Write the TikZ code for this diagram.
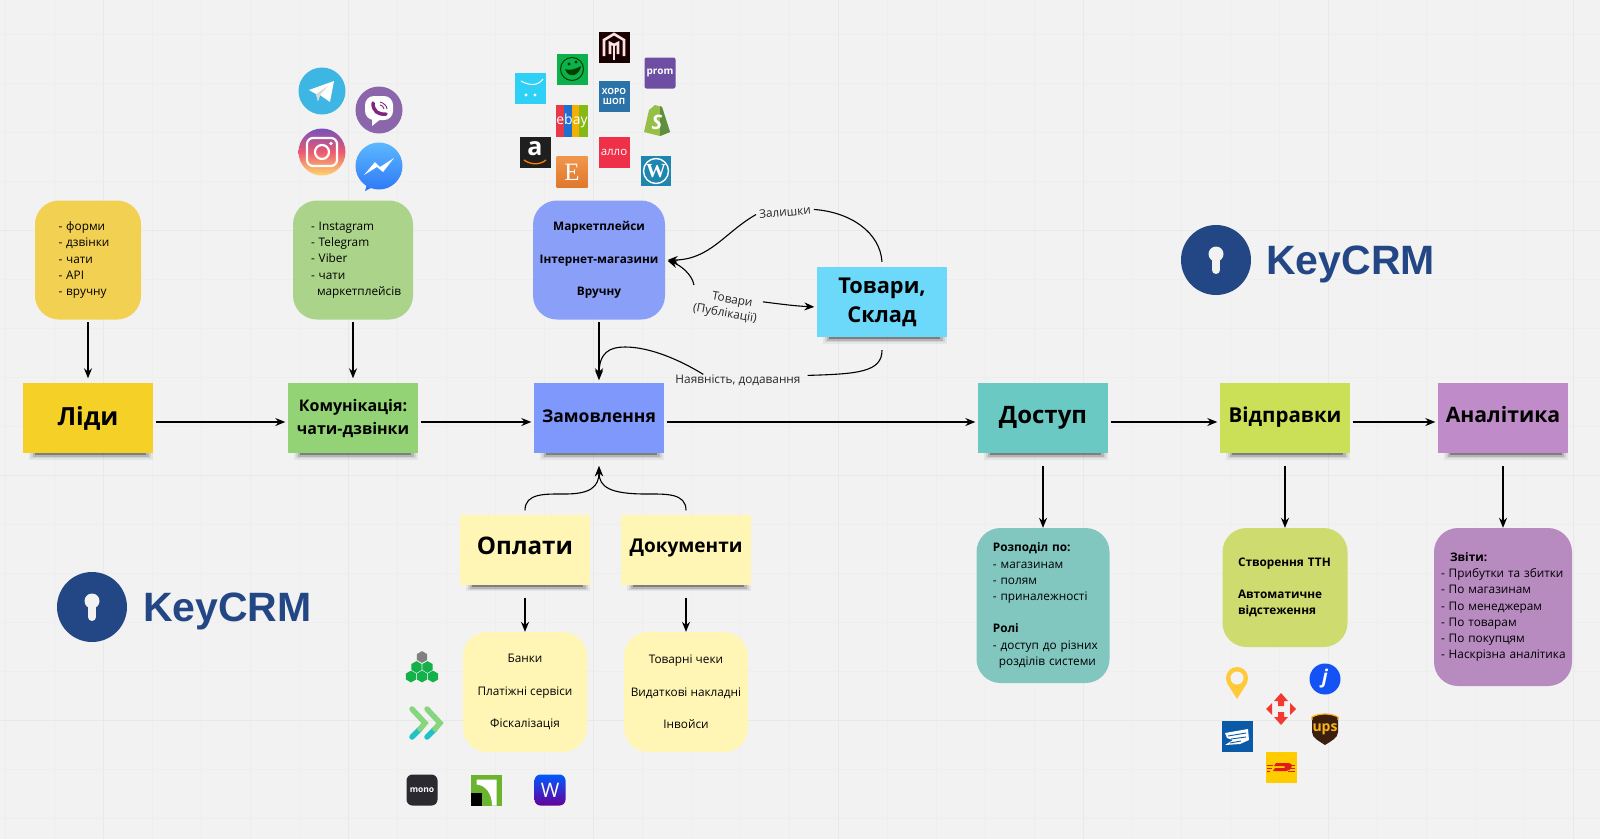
\documentclass[tikz,border=0pt]{standalone}
\usepackage{fontspec}
\setmainfont{Open Sans}
\newfontfamily\logofont{Liberation Sans}
\newfontfamily\etsyfont{Liberation Serif}
\usetikzlibrary{positioning, calc, arrows.meta, shapes.geometric, shadows}
\definecolor{board}{HTML}{F2F2F2}
\definecolor{gridminor}{HTML}{EEEEEE}
\definecolor{gridmajor}{HTML}{E9E9E9}
\definecolor{keyblue}{HTML}{234785}
\definecolor{notelead}{HTML}{F5D128}
\definecolor{notechat}{HTML}{93D275}
\definecolor{noteorder}{HTML}{7F98FC}
\definecolor{notestock}{HTML}{6CD8FA}
\definecolor{noteaccess}{HTML}{6BC9C3}
\definecolor{noteship}{HTML}{CBE057}
\definecolor{notereport}{HTML}{C08BC9}
\definecolor{notepay}{HTML}{FFF6B6}
\definecolor{cardlead}{HTML}{F2D052}
\definecolor{cardchat}{HTML}{ABD48A}
\definecolor{cardmarket}{HTML}{8A9FF8}
\definecolor{cardaccess}{HTML}{81C6BF}
\definecolor{cardship}{HTML}{CEDB6E}
\definecolor{cardreport}{HTML}{B78AC0}
\definecolor{shopgreen}{HTML}{95BF47}
\definecolor{shopdark}{HTML}{5E8E3E}
\definecolor{hexgreen}{HTML}{14B04A}
\definecolor{novared}{HTML}{F33A32}
\definecolor{dhlred}{HTML}{DE1B1B}
\definecolor{msgblue}{HTML}{2F7BF6}
\definecolor{msgsky}{HTML}{5CB8FF}
\definecolor{ebayred}{HTML}{E8394B}
\definecolor{ebayblue}{HTML}{1F6FD0}
\definecolor{ebayyellow}{HTML}{F2B100}
\definecolor{ebaygreen}{HTML}{86B817}
\definecolor{chevteal}{HTML}{21C1C4}
\definecolor{chevgreen}{HTML}{86D67F}
\definecolor{pinyellow}{HTML}{FFC938}
\definecolor{uspsblue}{HTML}{0B5AA8}
\definecolor{upsbrown}{HTML}{3B1E0E}
\definecolor{upsgold}{HTML}{FAB41A}
\tikzset{
  flow/.style={-{Stealth[length=10pt,width=8pt]}, line width=1.1pt, black, shorten >=2.5pt, shorten <=2.5pt},
  wire/.style={line width=1.1pt, black},
  note/.style={draw=none, minimum width=130pt, minimum height=70pt, inner sep=0pt, align=center,
    general shadow={fill=black, opacity=.05, shadow scale=.95, shadow xshift=3pt, shadow yshift=-8.75pt},
    general shadow={fill=black, opacity=.08, shadow scale=.92, shadow xshift=3pt, shadow yshift=-8.8pt},
    general shadow={fill=black, opacity=.14, shadow scale=.89, shadow xshift=3pt, shadow yshift=-8.85pt},
    general shadow={fill=black, opacity=.30, shadow scale=.86, shadow xshift=3pt, shadow yshift=-8.4pt}},
  lift/.style={text height=#1pt, text depth=0pt},
  card/.style n args={3}{rounded corners=24pt, minimum width=#1pt, minimum height=#2pt, inner xsep=#3pt,
    inner ysep=0pt, text width=#1pt-2*#3pt, font=\fontsize{11.8}{16.2}\selectfont, align=left},
  cardmid/.style n args={2}{rounded corners=24pt, minimum width=#1pt, minimum height=#2pt, inner sep=0pt,
    font=\fontsize{11.8}{16.2}\selectfont, align=center},
  edgelabel/.style={font=\fontsize{11.8}{14.5}\selectfont, inner sep=3pt, align=center, text=black!85},
  logosq/.style={inner sep=0pt, minimum size=31pt, text=white, font=\bfseries\fontsize{9}{10}\selectfont, align=center},
  logoround/.style={circle, inner sep=0pt, minimum size=47pt},
  hexcell/.style={regular polygon, regular polygon sides=6, shape border rotate=30, inner sep=0pt, minimum size=11.8pt},
  keytext/.style={text=keyblue, inner sep=0pt, anchor=base west, font=\logofont\bfseries\fontsize{41}{41}\selectfont}
}
\begin{document}
\begin{tikzpicture}[x=1pt, y=-1pt]
  \useasboundingbox (0,0) rectangle (1600,839);
  \fill[board] (0,0) rectangle (1600,839);
  \foreach \x in {5,54,...,1600} \draw[gridminor, line width=1pt] (\x,0) -- (\x,839);
  \foreach \y in {34,83,...,839} \draw[gridminor, line width=1pt] (0,\y) -- (1600,\y);
  \foreach \x in {103,348,...,1600} \draw[gridmajor, line width=1pt] (\x,0) -- (\x,839);
  \foreach \y in {230,475,720} \draw[gridmajor, line width=1pt] (0,\y) -- (1600,\y);

  % main row
  \node[note, lift=14, fill=notelead, font=\bfseries\fontsize{25}{29}\selectfont] (lead) at (88,418) {Ліди};
  \node[note, fill=notechat, font=\bfseries\fontsize{16}{23}\selectfont] (chat) at ($(lead)+(265,0)$) {Комунікація:\\чати-дзвінки};
  \node[note, lift=8, fill=noteorder, font=\bfseries\fontsize{17.5}{27}\selectfont] (order) at ($(chat)+(246,0)$) {Замовлення};
  \node[note, lift=11.2, fill=noteaccess, font=\bfseries\fontsize{24}{29}\selectfont] (access) at ($(order)+(444,0)$) {Доступ};
  \node[note, lift=8.6, fill=noteship, font=\bfseries\fontsize{20.5}{29}\selectfont] (ship) at ($(access)+(242,0)$) {Відправки};
  \node[note, lift=9.2, fill=notereport, font=\bfseries\fontsize{21.2}{29}\selectfont] (report) at ($(ship)+(218,0)$) {Аналітика};
  \foreach \a/\b in {lead/chat, chat/order, order/access, access/ship, ship/report}
    \draw[flow] ([yshift=-4pt]\a.east) -- ([yshift=-4pt]\b.west);

  % top cards
  \node[card={106}{119}{23.5}, fill=cardlead] (leadcard) at ($(lead)-(0,158)$) {
    - форми\\- дзвінки\\- чати\\- API\\- вручну}
    edge[flow, shorten >=4.5pt] (lead);
  \node[card={120}{119}{18}, fill=cardchat] (chatcard) at ($(chat)-(0,158)$) {
    - Instagram\\- Telegram\\- Viber\\- чати\\\hspace*{6pt}маркетплейсів}
    edge[flow, shorten >=4.5pt] (chat);
  \node[cardmid={132}{119}, fill=cardmarket, font=\bfseries\fontsize{11.8}{16.2}\selectfont] (marketcard) at ($(order)-(0,158)$) {
    Маркетплейси\\[16.2pt]Інтернет-магазини\\[16.2pt]Вручну}
    edge[flow, shorten >=4.5pt] (order);

  % stock
  \node[note, fill=notestock, font=\bfseries\fontsize{21.8}{29}\selectfont] (stock) at (882,302) {Товари,\\Склад};
  \node[edgelabel, rotate=5] (restlabel) at (785,212) {Залишки};
  \node[edgelabel, rotate=-10] (goodslabel) at (726,307) {\hspace*{10pt}Товари\\(Публікації)};
  \node[edgelabel] (orderlabel) at (738,380) {Наявність, додавання};
  \draw[wire] ([yshift=5pt]stock.north) .. controls (880,232) and (850,212) .. (restlabel.east);
  \draw[flow, shorten <=0pt] (restlabel.west) .. controls (725,232) and (710,260) .. (marketcard.east);
  \draw[{Stealth[length=10pt,width=8pt]}-, wire, shorten <=2.5pt] (marketcard.east) .. controls (680,265) and (692,274) .. (goodslabel.north west);
  \draw[flow, shorten <=0pt] (goodslabel.18) .. controls (780,304) and (795,306) .. ([yshift=-5pt]stock.west);
  \draw[wire] ([yshift=-13pt]stock.south) .. controls (882,372) and (858,374) .. ($(orderlabel.north east)+(4,4)$);
  \draw[flow, shorten <=0pt] ($(orderlabel.north west)+(31,3)$) .. controls (680,360) and (650,347) .. (625,347)
    .. controls (610,347) and (599,352) .. (order.north);

  % bottom notes
  \node[note, lift=10, fill=notepay, font=\bfseries\fontsize{24.2}{29}\selectfont] (pay) at (525,549.5) {Оплати};
  \node[note, lift=6.6, fill=notepay, font=\bfseries\fontsize{19}{29}\selectfont] (docs) at (686,549.5) {Документи};
  \draw[flow, shorten >=13pt, shorten <=0pt] ([yshift=4pt]pay.north) .. controls (525,493) and (545,494) .. (565,494)
    .. controls (590,494) and (599,487) .. (order.south);
  \draw[flow, shorten >=13pt, shorten <=0pt] ([yshift=4pt]docs.north) .. controls (686,493) and (666,494) .. (646,494)
    .. controls (610,494) and (599,487) .. (order.south);
  \node[cardmid={124}{120}, fill=notepay] (paycard) at ($(pay)+(0,142.5)$) {
    Банки\\[16.2pt]Платіжні сервіси\\[16.2pt]Фіскалізація};
  \node[cardmid={124}{120}, fill=notepay] (docscard) at ($(docs)+(0,142.5)$) {
    Товарні чеки\\[16.2pt]Видаткові накладні\\[16.2pt]Інвойси};
  \draw[flow, shorten <=13pt, shorten >=0pt] (pay.south) -- (paycard.north);
  \draw[flow, shorten <=13pt, shorten >=0pt] (docs.south) -- (docscard.north);

  % bottom cards
  \node[card={133}{155}{16.4}, fill=cardaccess] (accesscard) at (1043,605.5) {
    \textbf{Розподіл по:}\\- магазинам\\- полям\\- приналежності\\[16.2pt]\textbf{Ролі}\\\mbox{- доступ до різних}\\\mbox{\hspace*{6pt}розділів системи}};
  \node[card={125}{119}{15.5}, fill=cardship, font=\bfseries\fontsize{11.8}{16.2}\selectfont] (shipcard) at (1285,587.5) {
    \mbox{Створення ТТН}\\[16.2pt]Автоматичне\\відстеження};
  \node[card={138}{158}{7}, fill=cardreport] (reportcard) at (1503,607) {
    \hspace*{9pt}\textbf{Звіти:}\\\mbox{- Прибутки та збитки}\\- По магазинам\\- По менеджерам\\- По товарам\\- По покупцям\\\mbox{- Наскрізна аналітика}};
  \draw[flow, shorten <=13pt, shorten >=0pt] (access.south) -- (accesscard.north);
  \draw[flow, shorten <=13pt, shorten >=0pt] (ship.south) -- (shipcard.north);
  \draw[flow, shorten <=13pt, shorten >=0pt] (report.south) -- (reportcard.north);

  % keycrm
  \node[circle, fill=keyblue, minimum size=70pt, inner sep=0pt] (keyleft) at (92,607) {};
  \fill[board] ($(keyleft)+(0,-6)$) circle[radius=7.5pt];
  \draw[board, line width=8pt, line cap=round] ($(keyleft)+(0,-4)$) -- ($(keyleft)+(0,10)$);
  \node[keytext] (keylefttext) at (143,621) {KeyCRM};
  \node[circle, fill=keyblue, minimum size=70pt, inner sep=0pt] (keyright) at (1216,260) {};
  \fill[board] ($(keyright)+(0,-6)$) circle[radius=7.5pt];
  \draw[board, line width=8pt, line cap=round] ($(keyright)+(0,-4)$) -- ($(keyright)+(0,10)$);
  \node[keytext] (keyrighttext) at (1266,274) {KeyCRM};

  % messengers
  \node[logoround, fill={rgb,255:red,62;green,182;blue,227}] (telegram) at (322,91) {};
  \begin{scope}[shift={(telegram)}]
    \fill[white] (-13,-1) -- (12,-10) -- (8,11) -- (-2,4) -- (-4,10) -- (-6,3) -- cycle;
    \fill[black!15] (-6,3) -- (6,-5) -- (-2,4) -- (-4,10) -- cycle;
  \end{scope}
  \node[logoround, fill={rgb,255:red,140;green,102;blue,170}] (viber) at (379,110) {};
  \begin{scope}[shift={(viber)}]
    \fill[white, rounded corners=9pt] (-14,-14) rectangle (14,10);
    \fill[white] (-7,6) -- (-7,16) -- (3,8) -- cycle;
    \draw[violet!70!gray, line width=3.5pt, line cap=round] (-6,-7) .. controls (-6,1) and (-1,5) .. (7,4);
    \draw[violet!70!gray, line width=.9pt] (1,-8) .. controls (5,-7) and (8,-4) .. (8,-1);
    \draw[violet!70!gray, line width=.9pt] (1,-5) .. controls (3,-5) and (5,-3) .. (5,-1);
  \end{scope}
  \node[logoround, top color={rgb,255:red,120;green,80;blue,190}, bottom color={rgb,255:red,255;green,214;blue,110}, middle color={rgb,255:red,236;green,90;blue,110}] (instagram) at (322,152) {};
  \begin{scope}[shift={(instagram)}]
    \draw[white, line width=2.2pt, rounded corners=6pt] (-15,-14) rectangle (15,14);
    \draw[white, line width=2.2pt] (0,0) circle[radius=7pt];
    \fill[white] (9,-8.5) circle[radius=1.8pt];
  \end{scope}
  \fill[msgblue] (367,184) -- (365,191) -- (373,187) -- cycle;
  \node[logoround, top color=msgsky, bottom color=msgblue] (messenger) at (379,166) {};
  \begin{scope}[shift={(messenger)}]
    \fill[white] (-15,9) -- (-4,-4) -- (1,1) -- (15,-8) -- (4,6) -- (-2,1) -- cycle;
  \end{scope}

  % shops
  \node[logosq, fill={rgb,255:red,47;green,208;blue,245}] (opencart) at (530,88) {};
  \draw[white, line width=1pt] ($(opencart)+(-9,-7)$) .. controls ($(opencart)+(0,-2)$) and ($(opencart)+(8,-2)$) .. ($(opencart)+(13,-9)$);
  \fill[white] ($(opencart)+(-4,7)$) circle[radius=1.6pt] ($(opencart)+(5,7)$) circle[radius=1.6pt];
  \node[logosq, fill={rgb,255:red,13;green,177;blue,75}] (rozetka) at (572,69) {};
  \draw[green!25!black, line width=1pt] (rozetka) circle[radius=11.5pt];
  \fill[green!25!black] ($(rozetka)+(-7,0)$) .. controls ($(rozetka)+(-3,2)$) and ($(rozetka)+(4,0)$) .. ($(rozetka)+(9,-3)$) .. controls ($(rozetka)+(8,6)$) and ($(rozetka)+(-3,11)$) .. cycle;
  \fill[green!25!black] ($(rozetka)+(-3,-5)$) circle[radius=1.6pt] ($(rozetka)+(4,-7)$) circle[radius=1.6pt];
  \node[logosq, fill=black!90!red] (magento) at (614,47) {};
  \begin{scope}[shift={(magento)}]
    \draw[red!12!white, line width=2.6pt] (-10,9) -- (-10,-7) -- (0,-13) -- (10,-7) -- (10,9);
    \draw[red!12!white, line width=2.6pt] (-4,7) -- (-4,-4) -- (0,-2) -- (4,-4) -- (4,7);
    \draw[red!12!white, line width=2.6pt] (0,-2) -- (0,13);
  \end{scope}
  \node[logosq, rounded corners=2pt, fill={rgb,255:red,109;green,78;blue,163}, font=\bfseries\fontsize{10}{10}\selectfont] (prom) at (660,73) {prom};
  \node[logosq, fill={rgb,255:red,42;green,114;blue,168}, font=\bfseries\fontsize{8.5}{10}\selectfont] (horoshop) at (614,96) {ХОРО\\ШОП};
  \node[logosq] (ebay) at (572,121) {};
  \fill[ebayred] (ebay.north west) rectangle ($(ebay.south west)+(8,0)$);
  \fill[ebayblue] ($(ebay.north west)+(8,0)$) rectangle ($(ebay.south west)+(16,0)$);
  \fill[ebayyellow] ($(ebay.north west)+(16,0)$) rectangle ($(ebay.south west)+(23,0)$);
  \fill[ebaygreen] ($(ebay.north west)+(23,0)$) rectangle (ebay.south east);
  \node[inner sep=0pt, text=white, font=\fontsize{14}{14}\selectfont] (ebaytext) at (ebay) {ebay};
  \fill[shopgreen] (644,132) -- (649,110) -- (655,105) -- (662,107) -- (670,132) -- (660,136) -- cycle;
  \fill[shopdark] (660,106) -- (662,107) -- (670,132) -- (660,136) -- cycle;
  \node[inner sep=0pt, text=white, font=\bfseries\itshape\fontsize{20}{20}\selectfont] (shopify) at (657,122) {S};
  \node[logosq, fill=black!88] (amazon) at (535,152) {};
  \node[inner sep=0pt, text=white, font=\bfseries\fontsize{25}{25}\selectfont] (amazontext) at ($(amazon)+(0,-3)$) {a};
  \draw[orange, line width=1.3pt] ($(amazon)+(-11,8)$) .. controls ($(amazon)+(-4,13)$) and ($(amazon)+(5,13)$) .. ($(amazon)+(11,8)$);
  \node[logosq, fill={rgb,255:red,238;green,48;blue,72}, font=\fontsize{11.5}{11}\selectfont] (allo) at (614,152) {алло};
  \node[logosq, top color={rgb,255:red,240;green,150;blue,75}, bottom color={rgb,255:red,222;green,120;blue,45}, font=\etsyfont\fontsize{25}{25}\selectfont] (etsy) at (572,172) {E};
  \node[logosq, minimum size=30pt, fill={rgb,255:red,31;green,134;blue,175}, font=\etsyfont\bfseries\fontsize{20}{20}\selectfont] (wordpress) at (656,171) {W};
  \draw[white, line width=1.4pt] (wordpress) circle[radius=12.5pt];

  % payments
  \node[hexcell, fill=gray] (hextop) at (422,657) {};
  \foreach \i/\x/\y in {1/416.5/667, 2/427.5/667, 3/411/676.5, 4/422/676.5, 5/433/676.5}
    \node[hexcell, fill=hexgreen] (hex\i) at (\x,\y) {};
  \coordinate (chevron) at (425,723);
  \begin{scope}[shift={(chevron)}, line width=5.5pt, line cap=round]
    \draw[chevteal] (-13,14) -- (-5,6);
    \draw[chevteal] (2,14) -- (10,6);
    \draw[chevgreen] (-13,-14) -- (0,0) -- (-5,6);
    \draw[chevgreen] (2,-14) -- (15,0) -- (10,6);
  \end{scope}
  \node[logosq, rounded corners=6pt, fill={rgb,255:red,42;green,42;blue,48}, font=\bfseries\fontsize{8.5}{10}\selectfont] (mono) at (422,790) {mono};
  \node[logosq, fill={rgb,255:red,108;green,179;blue,47}] (privat) at (486,790) {};
  \begin{scope}[shift={(privat)}]
    \fill[white] (-9.5,-10.5) -- (10.5,-10.5) -- (10.5,15.5) -- (6,15.5) .. controls (6,3) and (-1,-5) .. (-9.5,-5.5) -- cycle;
    \fill[black] (-15.5,3) rectangle (-4,15.5);
  \end{scope}
  \node[logosq, rounded corners=6pt, top color=blue!65!cyan, bottom color=violet!80!blue, font=\fontsize{20}{20}\selectfont] (wayforpay) at (550,790) {W};

  % delivery
  \coordinate (pin) at (1237,683);
  \begin{scope}[shift={(pin)}]
    \fill[pinyellow] (-10,0) -- (0,16) -- (10,0) -- cycle;
    \fill[pinyellow] (0,-5) circle[radius=11pt];
    \fill[board] (0,-5) circle[radius=6.5pt];
  \end{scope}
  \node[circle, inner sep=0pt, minimum size=31pt, fill={rgb,255:red,20;green,82;blue,245}, text=white, font=\bfseries\itshape\fontsize{19}{19}\selectfont] (justin) at (1325,679) {j};
  \coordinate (nova) at (1281,709);
  \begin{scope}[shift={(nova)}, novared]
    \fill (0,-16) -- (7,-8) -- (3,-8) -- (3,-3) -- (-3,-3) -- (-3,-8) -- (-7,-8) -- cycle;
    \fill (0,16) -- (7,8) -- (3,8) -- (3,3) -- (-3,3) -- (-3,8) -- (-7,8) -- cycle;
    \fill (-15,0) -- (-9,-6) -- (-9,6) -- cycle;
    \fill (15,0) -- (9,-6) -- (9,6) -- cycle;
  \end{scope}
  \node[logosq, fill=uspsblue] (usps) at (1237,736) {};
  \begin{scope}[shift={(usps)}]
    \fill[white] (-12,-3) -- (11,-7) -- (12,4) -- (3,8) -- (-12,9) -- (-4,4) -- (-10,2) -- cycle;
    \draw[uspsblue, line width=.9pt] (-9,0) -- (9,-3) (-6,3) -- (9,1) (-7,7) -- (4,5);
  \end{scope}
  \coordinate (upsmark) at (1325,729);
  \begin{scope}[shift={(upsmark)}]
    \fill[upsbrown] (-13,-12) .. controls (-6,-16) and (6,-16) .. (13,-12) -- (13,3) .. controls (13,9) and (6,12) .. (0,16) .. controls (-6,12) and (-13,9) .. (-13,3) -- cycle;
    \draw[upsgold, line width=1.2pt] (-13,-9) -- (-13,-12) .. controls (-6,-16) and (6,-16) .. (13,-12) -- (13,-9);
  \end{scope}
  \node[inner sep=0pt, text=upsgold, font=\bfseries\fontsize{14}{14}\selectfont] (upstext) at (upsmark) {ups};
  \node[logosq, fill={rgb,255:red,255;green,204;blue,0}] (dhl) at (1281,767) {};
  \begin{scope}[shift={(dhl)}, dhlred]
    \fill (-5,-4) -- (8,-4) .. controls (13,-4) and (11,4) .. (5,4) -- (-8,4) -- (-6,1) -- (2,1) .. controls (5,1) and (5,-1) .. (3,-1) -- (-7,-1) -- cycle;
    \draw[line width=.9pt] (-14,-2) -- (-8,-2) (-14,1) -- (-9,1) (-14,4) -- (-11,4) (10,-2) -- (14,-2) (8,1) -- (14,1) (7,4) -- (14,4);
  \end{scope}
\end{tikzpicture}
\end{document}
